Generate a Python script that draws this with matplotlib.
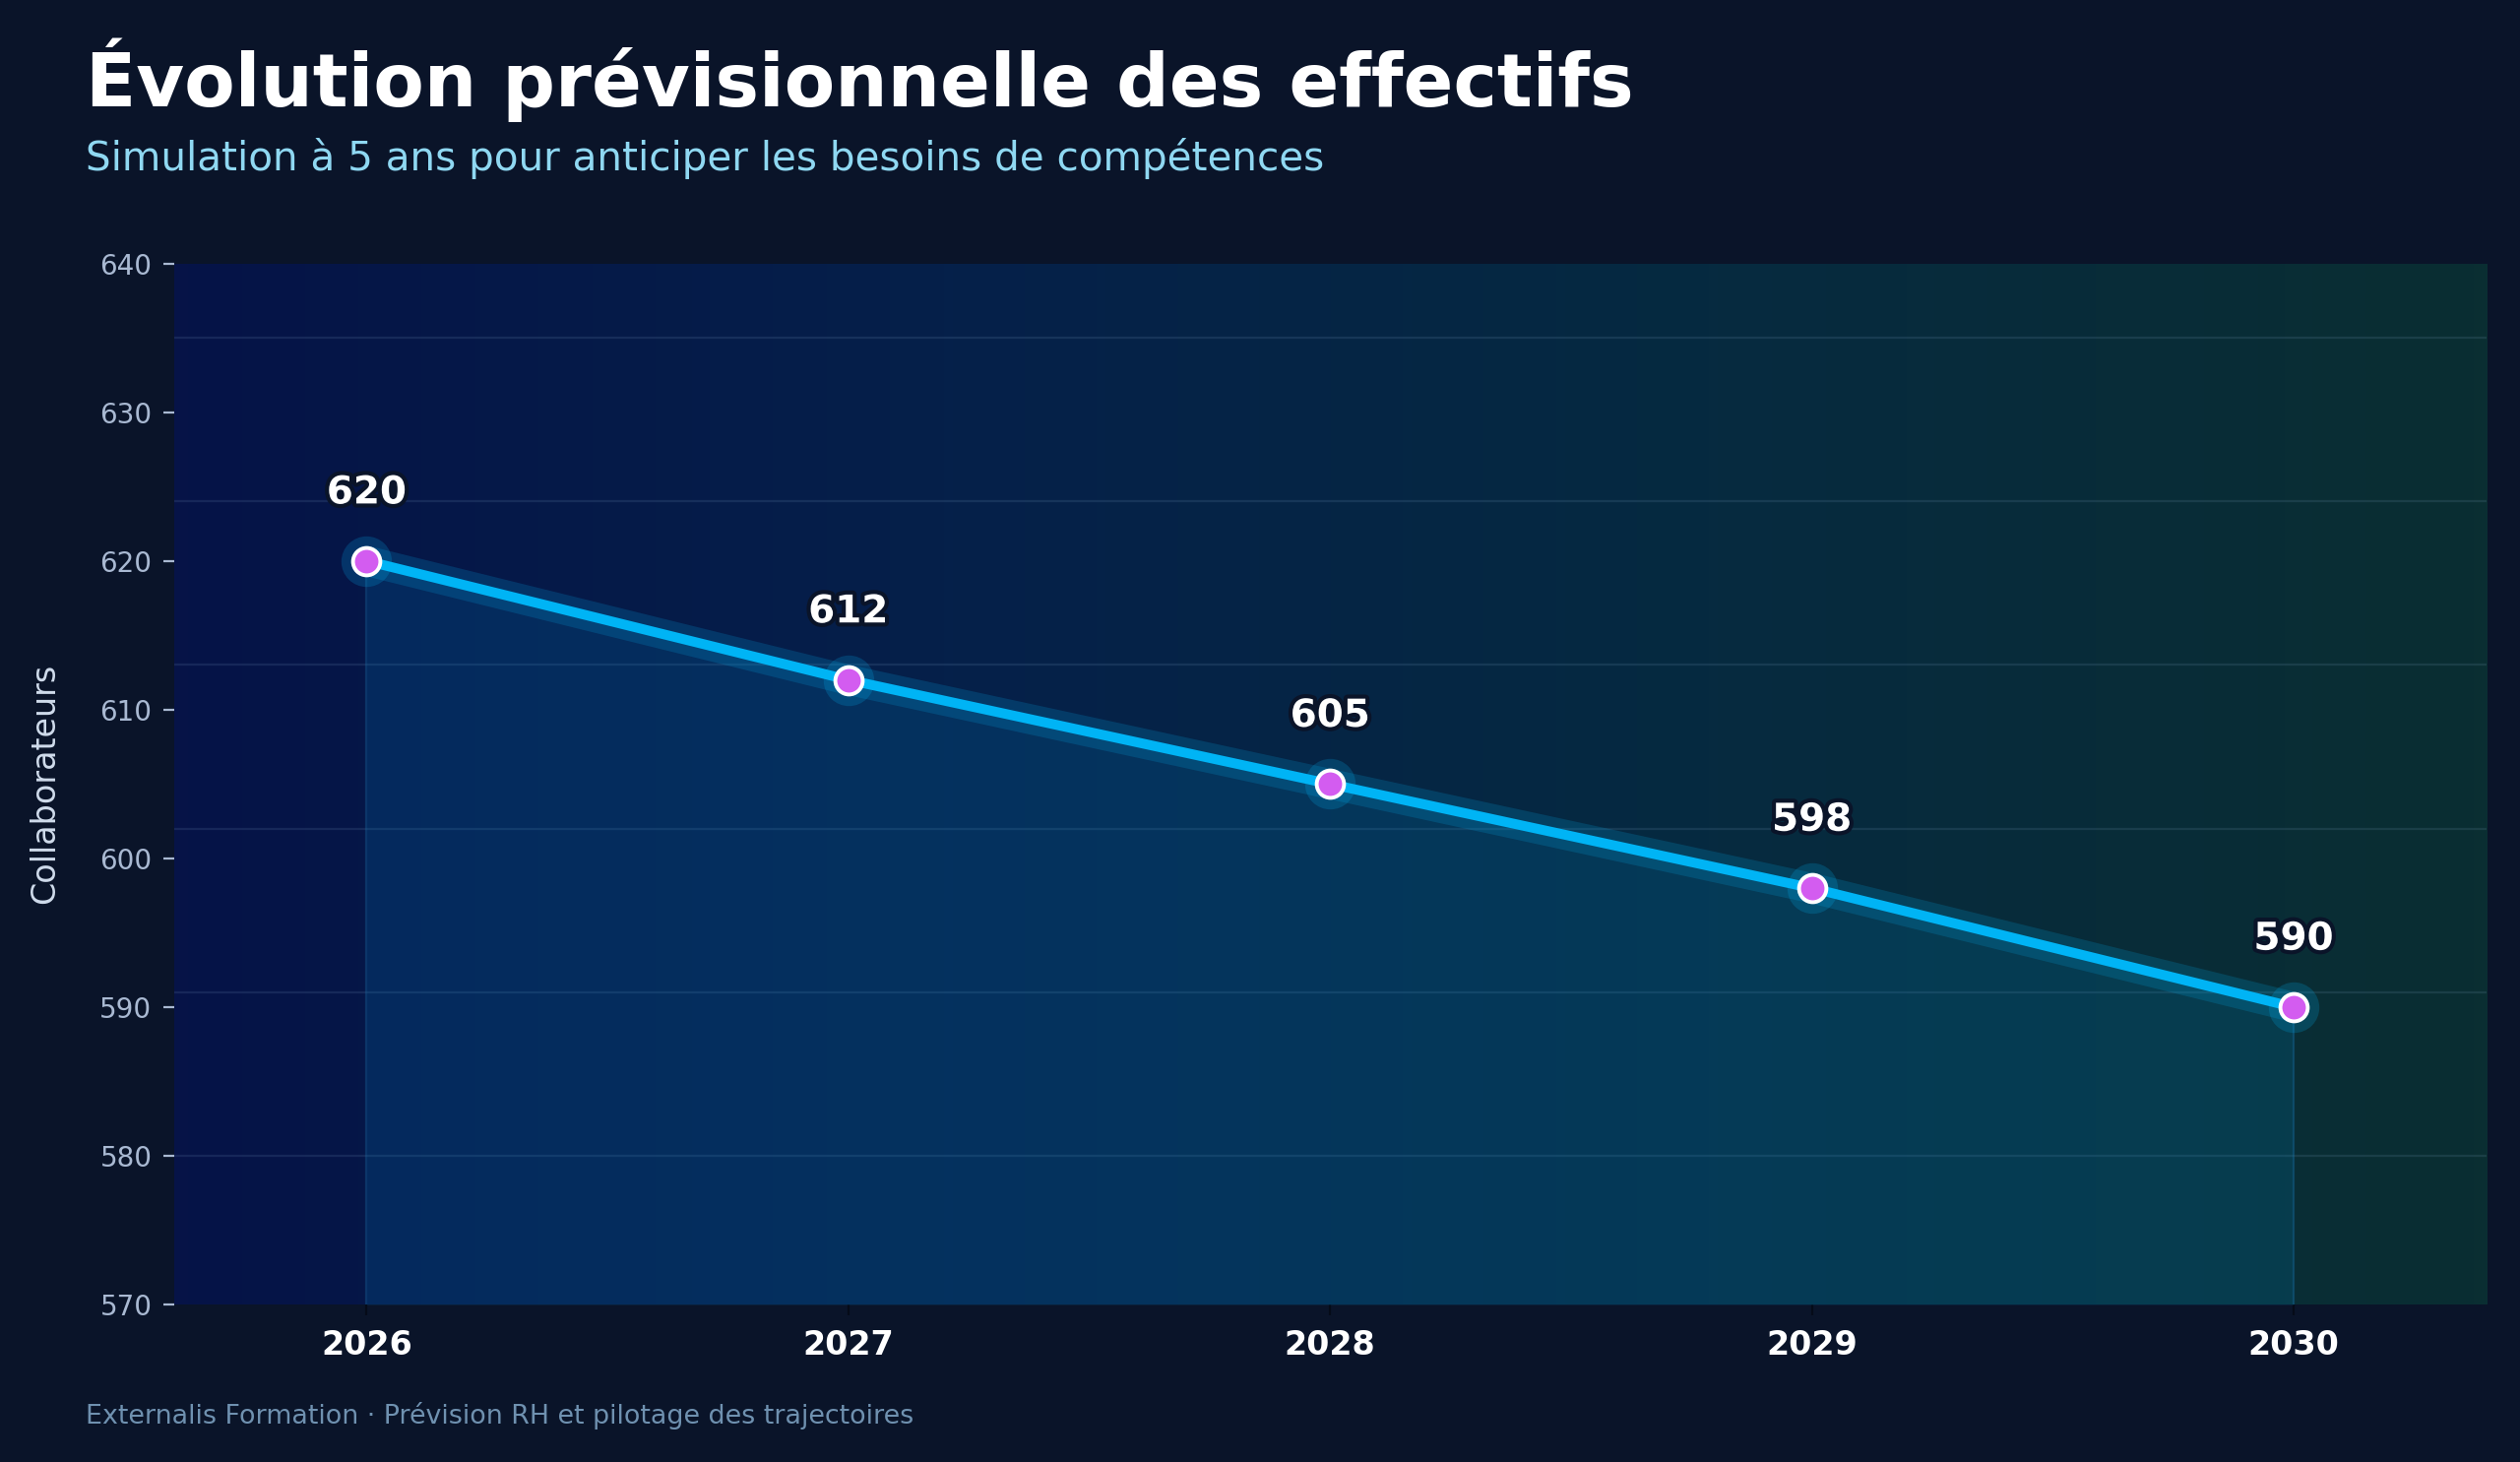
import numpy as np
import matplotlib
matplotlib.use('Agg')
import matplotlib.pyplot as plt
import matplotlib.patheffects as pe
from matplotlib.colors import LinearSegmentedColormap

years = [2026, 2027, 2028, 2029, 2030]
headcount = [620, 612, 605, 598, 590]

title = 'Évolution prévisionnelle des effectifs'
subtitle = 'Simulation à 5 ans pour anticiper les besoins de compétences'
footer = 'Externalis Formation · Prévision RH et pilotage des trajectoires'
ylabel = 'Collaborateurs'

bg = '#0a1429'
line_col = '#00b4f5'
marker_col = '#d35cf0'

fig = plt.figure(figsize=(12.8, 7.425), dpi=200, facecolor=bg)
ax = fig.add_axes([0.069, 0.1077, 0.9176, 0.7121])
ax.set_facecolor(bg)

xlim = (2025.6, 2030.4)
ylim = (570, 640)

# background gradient
cmap = LinearSegmentedColormap.from_list('bgg', ['#061347', '#05204a', '#062a40', '#0a2e32'])
grad = np.linspace(0, 1, 256).reshape(1, -1)
ax.imshow(grad, cmap=cmap, aspect='auto', extent=[xlim[0], xlim[1], ylim[0], ylim[1]],
          zorder=0, interpolation='bicubic')

# grid lines
for gy in np.arange(580, 640, 11):
	ax.axhline(gy, color='#8fb4d8', alpha=0.13, lw=0.8, zorder=1)

# fill under the curve
ax.fill_between(years, headcount, ylim[0], color='#0090d0', alpha=0.16, lw=0, zorder=2)
ax.vlines([years[0], years[-1]], ylim[0], [headcount[0], headcount[-1]],
          color='#1a6fa8', alpha=0.35, lw=0.8, zorder=2)

# glow + line
ax.plot(years, headcount, color=line_col, lw=11, alpha=0.18, solid_capstyle='round', zorder=3)
ax.plot(years, headcount, color=line_col, lw=3.6, solid_capstyle='round', zorder=4)
ax.plot(years, headcount, 'o', ms=18.5, color=line_col, alpha=0.2, mew=0, zorder=5)
ax.plot(years, headcount, 'o', ms=10, mfc=marker_col, mec='white', mew=1.4, zorder=6)

for x, y in zip(years, headcount):
	ax.annotate(str(y), (x, y), xytext=(0, 21), textcoords='offset points',
	            ha='center', va='baseline', fontsize=14, fontweight='bold', color='white',
	            path_effects=[pe.withStroke(linewidth=3, foreground='#0a1429')], zorder=7)

ax.set_xlim(*xlim)
ax.set_ylim(*ylim)
ax.set_xticks(years)
ax.set_xticklabels([str(y) for y in years], fontsize=12, fontweight='bold', color='white')
ax.set_yticks(np.arange(570, 641, 10))
ax.tick_params(axis='y', colors='#a9b9d2', labelsize=10, length=4, width=0.8, pad=4)
ax.tick_params(axis='x', colors='#050b18', length=4, width=0.8, pad=5)
for lab in ax.get_xticklabels():
	lab.set_color('white')
for s in ax.spines.values():
	s.set_visible(False)

ax.set_ylabel(ylabel, fontsize=12, color='#d0dcec', labelpad=14)

fig.text(0.0338, 0.9275, title, fontsize=27, fontweight='bold', color='white', va='baseline')
fig.text(0.0338, 0.8835, subtitle, fontsize=14.6, color='#8fd8f2', va='baseline')
fig.text(0.0338, 0.0264, footer, fontsize=9.7, color='#6f91b0', va='baseline')

fig.savefig('out.png', dpi=200, facecolor=bg)
